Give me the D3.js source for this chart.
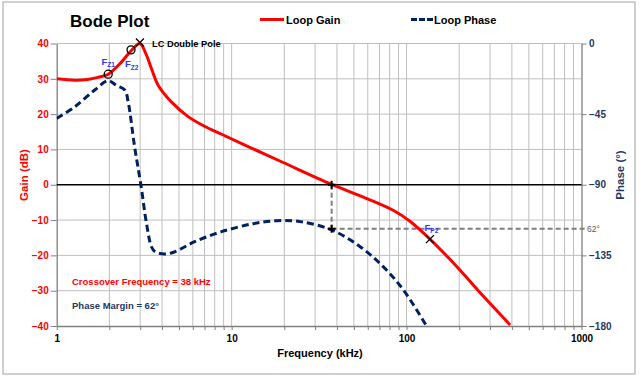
<!DOCTYPE html>
<html><head><meta charset="utf-8">
<script src="https://cdn.jsdelivr.net/npm/d3@7/dist/d3.min.js"></script>
<style>
html,body{margin:0;padding:0;background:#fff;}
text{font-family:"Liberation Sans",Arial,sans-serif;}
</style></head>
<body><svg id="c" width="640" height="378"></svg>
<script>
// ---- data ----
const gainFreq = [1, 1.27, 1.5, 1.72, 1.97, 2.35, 2.68, 2.99, 3.26, 3.48, 3.8, 4.54, 5.64, 7.04, 8.76, 12.7, 19.7, 37.3, 59.3, 84.3, 105, 136, 194, 275, 391];
const gainDb   = [30.0, 29.6, 29.8, 30.4, 31.3, 34.8, 38.1, 40, 36.7, 32.9, 28.2, 23.4, 19.3, 16.5, 14.3, 10.6, 6.3, 0.1, -3.9, -7.3, -10.4, -15.4, -23.2, -31.6, -39.7];
const phaseFreq = [1, 1.27, 1.65, 1.97, 2.2, 2.45, 2.56, 2.79, 3.03, 3.26, 3.48, 3.64, 4.15, 4.74, 6.15, 8.76, 13.3, 18.2, 24.6, 37.3, 54.3, 73.5, 95.9, 129];
const phaseDeg  = [-47.7, -40.3, -29.6, -23.7, -26.8, -29.6, -37, -66, -90.2, -114.6, -129.5, -132.6, -134.1, -132.7, -126.3, -119.9, -114.8, -112.9, -113.5, -118.8, -129.5, -142.2, -157, -179.4];
const gainTicks = [-40, -30, -20, -10, 0, 10, 20, 30, 40];
const phaseTicks = [0, -45, -90, -135, -180];
const freqLabels = [1, 10, 100, 1000];
const circleMarkers = [{f: 1.97, g: 31.3}, {f: 2.66, g: 38.2}];
const xMarkers = [{f: 2.99, g: 40.3}, {f: 136, g: -15.4}];
const crossoverFreq = 37.3, phaseAtCrossover = -118;

const svg = d3.select("#c");
const x = d3.scaleLog().domain([1, 1000]).range([56.7, 581.5]);
const yG = d3.scaleLinear().domain([-40, 40]).range([326, 43.5]);
const yP = d3.scaleLinear().domain([-180, 0]).range([326, 43.5]);
const allFreqTicks = [];
[1, 10, 100].forEach(d => { for (let k = 1; k < 10; k++) allFreqTicks.push(d * k); });
allFreqTicks.push(1000);

// border
svg.append("rect").attr("x", 3).attr("y", 2).attr("width", 632).attr("height", 372)
  .attr("fill", "#fff").attr("stroke", "#bfbfbf").attr("stroke-width", 1.5);

// grid
const grid = svg.append("g");
grid.selectAll("line.v").data(allFreqTicks.filter(d => d > 1 && d < 1000)).join("line")
  .attr("x1", d => x(d)).attr("x2", d => x(d)).attr("y1", yG(40)).attr("y2", yG(-40))
  .attr("stroke", "#bfbfbf").attr("stroke-width", 1);
grid.selectAll("line.h").data(gainTicks.filter(d => d !== 0 && d !== -40)).join("line")
  .attr("x1", x(1)).attr("x2", x(1000)).attr("y1", d => yG(d)).attr("y2", d => yG(d))
  .attr("stroke", "#bfbfbf").attr("stroke-width", 1);

// axes
const axColor = "#808080";
const gl = svg.append("g").attr("transform", `translate(${x(1)},0)`)
  .call(d3.axisLeft(yG).tickValues(gainTicks).tickSize(6).tickSizeOuter(0).tickPadding(2));
const gr = svg.append("g").attr("transform", `translate(${x(1000)},0)`)
  .call(d3.axisRight(yP).tickValues(phaseTicks).tickSize(5).tickSizeOuter(0).tickPadding(2.5));
const gb = svg.append("g").attr("transform", `translate(0,${yG(-40)})`)
  .call(d3.axisBottom(x).tickValues(allFreqTicks).tickSize(4).tickSizeOuter(0).tickPadding(5)
    .tickFormat(d => freqLabels.includes(d) ? d : ""));
[gl, gr, gb].forEach(g => {
  g.select(".domain").attr("stroke", axColor).attr("stroke-width", 1.3);
  g.selectAll(".tick line").attr("stroke", axColor).attr("stroke-width", 1);
  g.selectAll("text").attr("font-weight", "bold").attr("font-size", 10)
    .attr("font-family", '"Liberation Sans",Arial,sans-serif');
});
gl.selectAll("text").attr("fill", "#ff0000");
gr.selectAll("text").attr("fill", "#1f3864");
gb.selectAll("text").attr("fill", "#000");

// zero line
svg.append("line").attr("x1", x(1)).attr("x2", x(1000)).attr("y1", yG(0)).attr("y2", yG(0))
  .attr("stroke", "#000").attr("stroke-width", 1.5);

// crossover dashed guides
svg.append("line").attr("x1", x(crossoverFreq)).attr("x2", x(crossoverFreq))
  .attr("y1", yG(0)).attr("y2", yP(phaseAtCrossover))
  .attr("stroke", "#7f7f7f").attr("stroke-width", 2).attr("stroke-dasharray", "5,3");
svg.append("line").attr("x1", x(crossoverFreq)).attr("x2", x(1000) + 4)
  .attr("y1", yP(phaseAtCrossover)).attr("y2", yP(phaseAtCrossover))
  .attr("stroke", "#7f7f7f").attr("stroke-width", 2).attr("stroke-dasharray", "5,3");
svg.append("text").attr("x", 587).attr("y", yP(phaseAtCrossover) + 3).attr("font-size", 8.5)
  .attr("fill", "#595959").text("62°");

// clip
svg.append("clipPath").attr("id", "pc").append("rect")
  .attr("x", x(1)).attr("y", yG(40) - 4).attr("width", x(1000) - x(1)).attr("height", yG(-40) - yG(40) + 4);

// curves
const phaseLine = d3.line().x(d => x(d[0])).y(d => yP(d[1])).curve(d3.curveCatmullRom.alpha(0.5));
const gainLine = d3.line().x(d => x(d[0])).y(d => yG(d[1])).curve(d3.curveCatmullRom.alpha(0.5));
svg.append("path").attr("clip-path", "url(#pc)")
  .attr("d", phaseLine(phaseFreq.map((f, i) => [f, phaseDeg[i]])))
  .attr("fill", "none").attr("stroke", "#002060").attr("stroke-width", 3).attr("stroke-dasharray", "7,4");
svg.append("path").attr("clip-path", "url(#pc)")
  .attr("d", gainLine(gainFreq.map((f, i) => [f, gainDb[i]])))
  .attr("fill", "none").attr("stroke", "#ff0000").attr("stroke-width", 3);

// markers
svg.selectAll("circle.m").data(circleMarkers).join("circle")
  .attr("cx", d => x(d.f)).attr("cy", d => yG(d.g)).attr("r", 4)
  .attr("fill", "none").attr("stroke", "#000").attr("stroke-width", 1.3);
xMarkers.forEach(d => {
  const cx = x(d.f), cy = yG(d.g), s = 4;
  svg.append("path").attr("d", `M${cx-s},${cy-s}L${cx+s},${cy+s}M${cx-s},${cy+s}L${cx+s},${cy-s}`)
    .attr("stroke", "#000").attr("stroke-width", 1.3);
});
[[crossoverFreq, yG(0)], [crossoverFreq, yP(phaseAtCrossover)]].forEach(([f, cy]) => {
  const cx = x(f), s = 4;
  svg.append("path").attr("d", `M${cx-s},${cy}L${cx+s},${cy}M${cx},${cy-s}L${cx},${cy+s}`)
    .attr("stroke", "#000").attr("stroke-width", 2);
});

// subscript labels
function subLabel(px, py, main, sub) {
  const t = svg.append("text").attr("x", px).attr("y", py).attr("fill", "#3333ff")
    .attr("font-weight", "bold").attr("font-size", 9.5);
  t.append("tspan").text(main);
  t.append("tspan").attr("dy", 2.5).attr("font-size", 6.5).text(sub);
}
subLabel(101.5, 64.5, "F", "Z1");
subLabel(125, 67, "F", "Z2");
subLabel(424.5, 230.5, "F", "P2");

svg.append("text").attr("x", 152).attr("y", 46.5).attr("font-size", 9.3).attr("font-weight", "bold")
  .attr("fill", "#000").text("LC Double Pole");

// title
svg.append("text").attr("x", 70).attr("y", 27).attr("font-size", 17).attr("font-weight", "bold")
  .attr("fill", "#000").text("Bode Plot");

// legend
svg.append("line").attr("x1", 260).attr("x2", 284).attr("y1", 19.5).attr("y2", 19.5)
  .attr("stroke", "#ff0000").attr("stroke-width", 3);
svg.append("text").attr("x", 286).attr("y", 23.5).attr("font-size", 11).attr("font-weight", "bold").text("Loop Gain");
svg.append("line").attr("x1", 411).attr("x2", 433).attr("y1", 19.5).attr("y2", 19.5)
  .attr("stroke", "#002060").attr("stroke-width", 3).attr("stroke-dasharray", "6,2");
svg.append("text").attr("x", 434).attr("y", 23.5).attr("font-size", 11).attr("font-weight", "bold").text("Loop Phase");

// axis titles
svg.append("text").attr("transform", "translate(28,175) rotate(-90)").attr("text-anchor", "middle")
  .attr("font-size", 11.5).attr("font-weight", "bold").attr("fill", "#ff0000").text("Gain (dB)");
svg.append("text").attr("transform", "translate(624,175) rotate(-90)").attr("text-anchor", "middle")
  .attr("font-size", 11.5).attr("font-weight", "bold").attr("fill", "#1f3864").text("Phase  (°)");
svg.append("text").attr("x", 320).attr("y", 357).attr("text-anchor", "middle")
  .attr("font-size", 11).attr("font-weight", "bold").attr("fill", "#000").text("Frequency (kHz)");

// notes
svg.append("text").attr("x", 72).attr("y", 284.5).attr("font-size", 9.5).attr("font-weight", "bold")
  .attr("fill", "#ff0000").text("Crossover Frequency = 38 kHz");
svg.append("text").attr("x", 72).attr("y", 308.5).attr("font-size", 9.5).attr("font-weight", "bold")
  .attr("fill", "#1f3864").text("Phase Margin = 62°");
</script></body></html>
